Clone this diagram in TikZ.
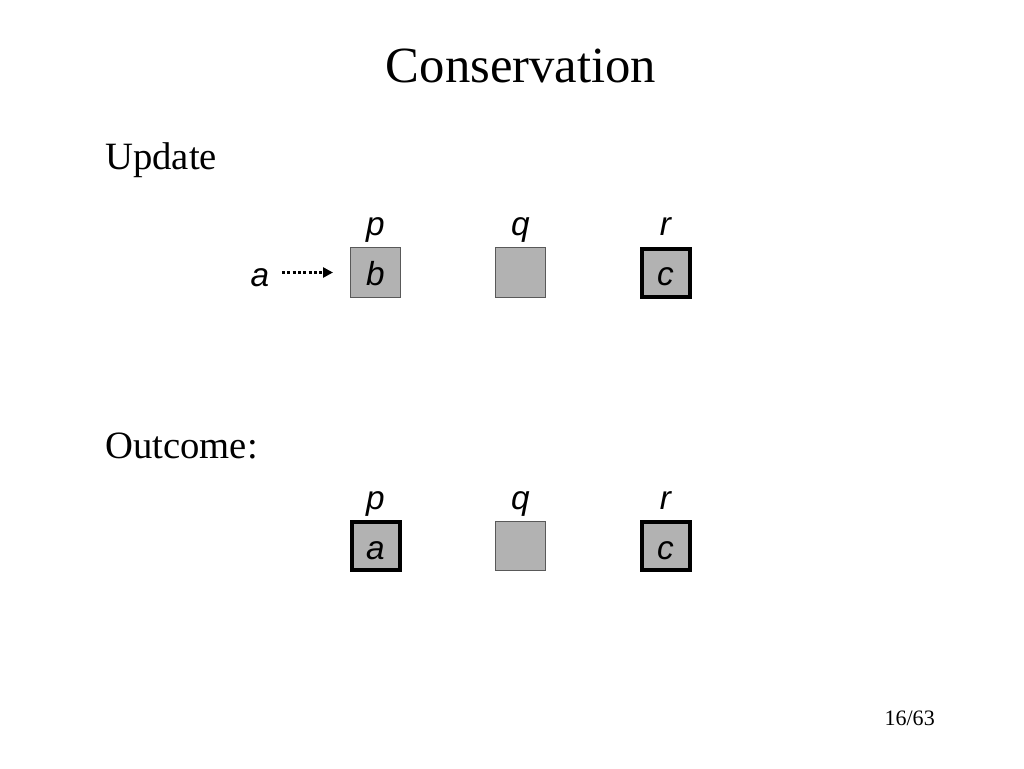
\documentclass[tikz,border=0pt]{standalone}
\usepackage{fontspec}
\setmainfont{Liberation Serif}
\newfontfamily\cellfont{Liberation Sans}
\usetikzlibrary{arrows.meta,positioning}

\begin{document}
\begin{tikzpicture}[
		x=0.75pt,y=-0.75pt,
		Cell/.style={draw=black!65,line width=0.9pt,fill=black!30,minimum size=37pt,inner sep=0pt,
			font=\cellfont\itshape\fontsize{25}{29}\selectfont,text height=20pt,text depth=0pt},
		Held/.style={Cell,draw=black,line width=3pt,minimum size=36pt},
		Name/.style={font=\cellfont\itshape\fontsize{25}{29}\selectfont,anchor=base,inner sep=0pt},
		Heading/.style={font=\fontsize{29}{34}\selectfont,anchor=base west,inner sep=0pt}
		]
		\useasboundingbox (0,0) rectangle (1024,768);
		
		\node[font=\fontsize{38}{44}\selectfont,anchor=base,inner sep=0pt] (title) at (521,82) {Conservation};
		
		% update
		\node[Heading] (update) at (105,169) {Update};
		
		\node[Cell] (p1) at (375.5,272.5) {b};
		\node[Cell] (q1) at (520.5,272.5) {};
		\node[Held] (r1) at (665.5,272.5) {c};
		
		\node[Name] (np1) at (375.5,235) {p};
		\node[Name] (nq1) at (520.5,235) {q};
		\node[Name] (nr1) at (665.5,235) {r};
		
		\node[Name] (a1) at (260,286) {a};
		\coordinate (tip) at (333,272.5);
		\draw[line width=2.2pt,dash pattern=on 2.2pt off 1.8pt,-{Triangle[length=7.5pt,width=7.5pt]}] (282,272.5)--(tip);
		
		% outcome
		\node[Heading] (outcome) at (105,458) {Outcome:};
		
		\node[Held] (p2) at (375.5,546) {a};
		\node[Cell] (q2) at (520.5,546) {};
		\node[Held] (r2) at (665.5,546) {c};
		
		\node[Name] (np2) at (375.5,509) {p};
		\node[Name] (nq2) at (520.5,509) {q};
		\node[Name] (nr2) at (665.5,509) {r};
		
		\node[font=\fontsize{16.5}{20}\selectfont,anchor=base east,inner sep=0pt] (page) at (935,725) {16/63};
		
	\end{tikzpicture}
\end{document}
